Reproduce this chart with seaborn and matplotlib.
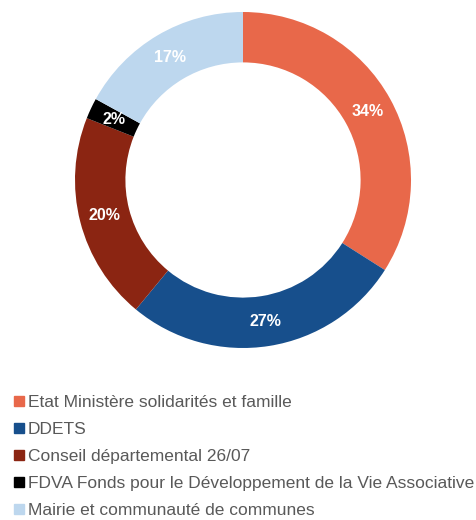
import matplotlib
matplotlib.use('Agg')
import matplotlib.pyplot as plt
import matplotlib.patches as mpatches
import numpy as np
import seaborn as sns

sns.set_theme(style='white')
plt.rcParams['font.family'] = ['Liberation Sans', 'DejaVu Sans']

# data
labels = [
    'Etat Ministère solidarités et famille',
    'DDETS',
    'Conseil départemental 26/07',
    'FDVA Fonds pour le Développement de la Vie Associative',
    'Mairie et communauté de communes',
]
shares = [34, 27, 20, 2, 17]
colors = ['#E8684A', '#174F8C', '#8B2512', '#000000', '#BDD7EE']

fig = plt.figure(figsize=(4.77, 5.2), dpi=100)
# donut area: centre ~ (243, 180) px, outer radius ~168 px
ax = fig.add_axes([(243 - 168) / 477, 1 - (180 + 168) / 520, 336 / 477, 336 / 520])

wedges, texts = ax.pie(
    shares, colors=colors, startangle=90, counterclock=False,
    radius=1.0, wedgeprops=dict(width=0.30, edgecolor='none'),
)
ax.set_xlim(-1, 1)
ax.set_ylim(-1, 1)
ax.set_aspect('equal')

# percentage labels in the middle of the ring
for w, v in zip(wedges, shares):
    ang = np.deg2rad((w.theta1 + w.theta2) / 2)
    r = 0.85
    ax.text(r * np.cos(ang), r * np.sin(ang), f'{v}%', ha='center', va='center',
            color='white', fontsize=11.5, fontweight='bold')

handles = [mpatches.Patch(color=c, label=l) for c, l in zip(colors, labels)]
fig.legend(handles=handles, loc='upper left', bbox_to_anchor=(14 / 477, 1 - 395 / 520),
           frameon=False, fontsize=12.5, labelcolor='#595959',
           handlelength=0.55, handleheight=0.55, handletextpad=0.25,
           labelspacing=0.69, borderpad=0, borderaxespad=0)

fig.savefig('out.png', dpi=100)
